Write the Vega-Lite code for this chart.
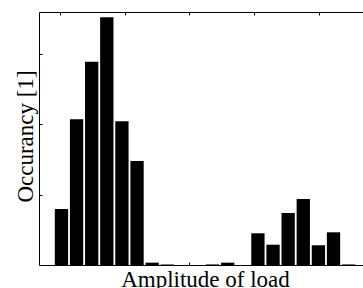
{
  "$schema": "https://vega.github.io/schema/vega-lite/v6.json",
  "width": 324,
  "height": 253,
  "autosize": {"type": "none"},
  "padding": {"left": 39, "top": 12, "right": 0, "bottom": 23},
  "background": "white",
  "config": {
    "view": {"stroke": null},
    "axis": {
      "labels": false,
      "domain": true,
      "domainColor": "black",
      "domainWidth": 1,
      "tickSize": -3,
      "tickColor": "black",
      "tickWidth": 1,
      "grid": false,
      "titleFont": "Liberation Serif",
      "titleFontSize": 23,
      "titleFontWeight": "normal",
      "titleColor": "black"
    }
  },
  "data": {
    "values": [
      {"amp": 0.020, "occ": 0.795},
      {"amp": 0.254, "occ": 2.067},
      {"amp": 0.488, "occ": 2.885},
      {"amp": 0.722, "occ": 3.515},
      {"amp": 0.956, "occ": 2.039},
      {"amp": 1.190, "occ": 1.476},
      {"amp": 1.424, "occ": 0.033},
      {"amp": 1.658, "occ": 0.008},
      {"amp": 1.892, "occ": 0},
      {"amp": 2.125, "occ": 0},
      {"amp": 2.359, "occ": 0.008},
      {"amp": 2.593, "occ": 0.033},
      {"amp": 2.827, "occ": 0},
      {"amp": 3.061, "occ": 0.45},
      {"amp": 3.295, "occ": 0.288},
      {"amp": 3.529, "occ": 0.738},
      {"amp": 3.763, "occ": 0.937},
      {"amp": 3.997, "occ": 0.28},
      {"amp": 4.231, "occ": 0.464},
      {"amp": 4.465, "occ": 0.008}
    ]
  },
  "layer": [
    {
      "mark": {"type": "bar", "color": "black", "width": 13.3},
      "encoding": {
        "x": {
          "field": "amp",
          "type": "quantitative",
          "scale": {"domain": [-0.25, 4.61], "nice": false, "zero": false},
          "axis": {
            "orient": "bottom",
            "values": [0, 1, 2, 3, 4],
            "title": "Amplitude of load",
            "titleBaseline": "alphabetic",
            "titleAlign": "center",
            "titleX": 166,
            "titleY": 21
          }
        },
        "y": {
          "field": "occ",
          "type": "quantitative",
          "scale": {"domain": [0, 3.59], "nice": false, "zero": false},
          "axis": {
            "orient": "left",
            "values": [1, 2, 3],
            "title": "Occurancy [1]",
            "titleAngle": 270,
            "titleBaseline": "alphabetic",
            "titleAlign": "center",
            "titleX": -7,
            "titleY": 124
          }
        }
      }
    },
    {
      "mark": {"type": "bar", "opacity": 0, "width": 13.3},
      "encoding": {
        "x": {
          "field": "amp",
          "type": "quantitative",
          "scale": {"domain": [-0.25, 4.61], "nice": false, "zero": false},
          "axis": {"orient": "top", "values": [0, 1, 2, 3, 4], "title": null}
        },
        "y": {
          "field": "occ",
          "type": "quantitative",
          "scale": {"domain": [0, 3.59], "nice": false, "zero": false},
          "axis": null
        }
      }
    }
  ],
  "resolve": {"axis": {"x": "independent", "y": "independent"}}
}
